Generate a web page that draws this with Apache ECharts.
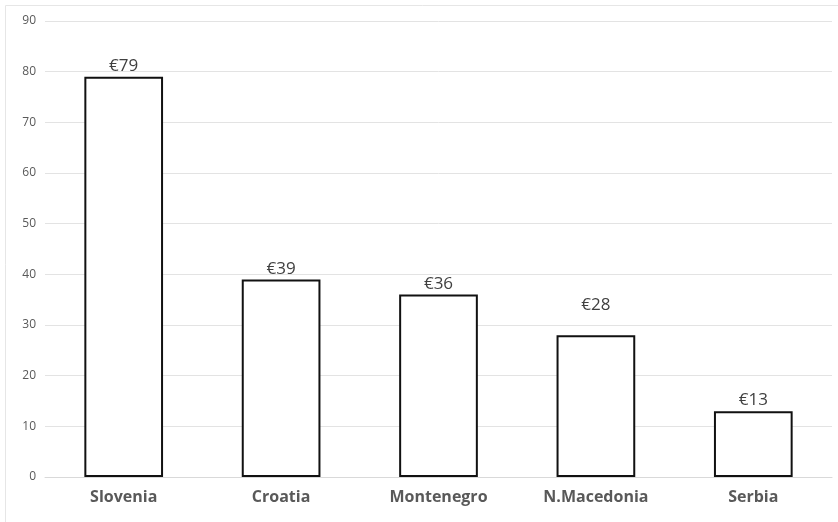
<!DOCTYPE html>
<html>
<head>
<meta charset="utf-8">
<script src="https://cdn.jsdelivr.net/npm/echarts@6/dist/echarts.min.js"></script>
<style>
  html, body { margin: 0; padding: 0; background: #fff; }
  #chart { width: 838px; height: 522px; }
</style>
</head>
<body>
<div id="chart"></div>
<script>
const countries = ['Slovenia', 'Croatia', 'Montenegro', 'N.Macedonia', 'Serbia'];
const values = [79, 39, 36, 28, 13];
// the N.Macedonia label sits higher than the others in the original
const labelLift = [0, 0, 0, 19, 0];

const chart = echarts.init(document.getElementById('chart'));

chart.setOption({
    animation: false,
    textStyle: { fontFamily: 'Open Sans' },
    graphic: [{
        type: 'rect',
        shape: { x: 5.5, y: 5.5, width: 840, height: 530 },
        style: { fill: 'none', stroke: '#e6e6e6', lineWidth: 1 }
    }],
    grid: { left: 45, right: 6, top: 21, bottom: 45 },
    xAxis: {
        type: 'category',
        data: countries,
        axisLine: { show: true, lineStyle: { color: '#d9d9d9' } },
        axisTick: { show: false },
        axisLabel: { color: '#595959', fontSize: 16, fontWeight: 'bold', margin: 12 }
    },
    yAxis: {
        type: 'value',
        min: 0,
        max: 90,
        interval: 10,
        axisLine: { show: false },
        axisTick: { show: false },
        axisLabel: { color: '#595959', fontSize: 12, margin: 9 },
        splitLine: { lineStyle: { color: '#e3e3e3', width: 1 } }
    },
    series: [{
        type: 'bar',
        barWidth: '50%',
        data: values.map((v, i) => ({
            value: v,
            label: { offset: [0, -labelLift[i]] }
        })),
        itemStyle: { color: '#ffffff', borderColor: '#111111', borderWidth: 2 },
        label: {
            show: true,
            position: 'top',
            distance: 2,
            color: '#404040',
            fontSize: 17,
            formatter: p => '€' + p.value
        }
    }]
});

window.addEventListener('resize', () => chart.resize());
</script>
</body>
</html>
